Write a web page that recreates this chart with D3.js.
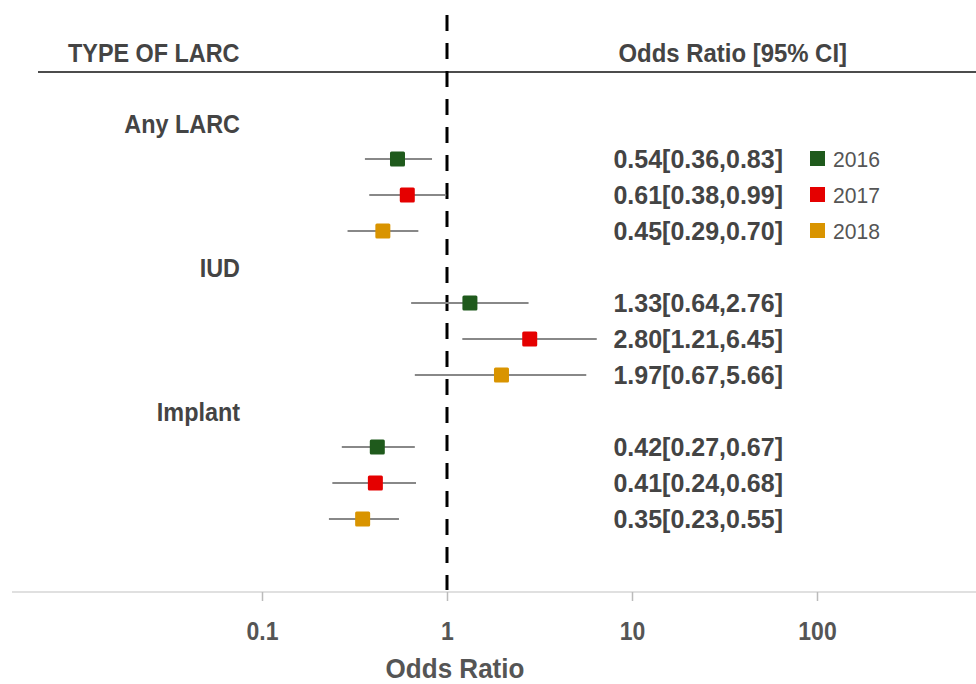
<!DOCTYPE html>
<html>
<head>
<meta charset="utf-8">
<script src="https://cdn.jsdelivr.net/npm/d3@7"></script>
<style>
  body { margin: 0; background: #fff; }
  text { font-family: "Liberation Sans", Arial, sans-serif; }
</style>
</head>
<body>
<script>
'use strict';

// rows of the forest plot, top to bottom (group headers have no values)
const rowLabels = ["Any LARC", "2016", "2017", "2018", "IUD", "2016", "2017", "2018", "Implant", "2016", "2017", "2018"];
const groupRows = [0, 4, 8];
const oddsRatio = [null, 0.54, 0.61, 0.45, null, 1.33, 2.80, 1.97, null, 0.42, 0.41, 0.35];
const ciLow     = [null, 0.36, 0.38, 0.29, null, 0.64, 1.21, 0.67, null, 0.27, 0.24, 0.23];
const ciHigh    = [null, 0.83, 0.99, 0.70, null, 2.76, 6.45, 5.66, null, 0.67, 0.68, 0.55];
const years = ["2016", "2017", "2018"];
const yearColors = ["#1f5a1c", "#e50000", "#d99400"];
const tickValues = [0.1, 1, 10, 100];
const tickLabels = ["0.1", "1", "10", "100"];

const width = 976, height = 684;
const textColor = "#444";
const squeeze = 0.9; // text in the picture is slightly condensed

const svg = d3.select("body").append("svg")
  .attr("width", width)
  .attr("height", height);

// log scale for odds ratio
const x = d3.scaleLog().domain([0.1, 100]).range([262, 817]);
// rows
const y = d3.scaleLinear().domain([0, rowLabels.length - 1]).range([123, 519]);

// helper for condensed text
function label(txt, px, py, size, weight, anchor, sx) {
  return svg.append("text")
    .attr("transform", "translate(" + px + "," + py + ") scale(" + (sx || squeeze) + ",1)")
    .attr("text-anchor", anchor)
    .style("font-size", size + "px")
    .style("font-weight", weight)
    .style("fill", textColor)
    .text(txt);
}

// header
label("TYPE OF LARC", 68, 62, 26, "bold", "start");
label("Odds Ratio [95% CI]", 847, 62, 26, "bold", "end", 0.92);
svg.append("line")
  .attr("x1", 38).attr("x2", width)
  .attr("y1", 72).attr("y2", 72)
  .attr("stroke", "#111").attr("stroke-width", 1.3);

// x axis
const axis = d3.axisBottom(x)
  .tickValues(tickValues)
  .tickFormat((d, i) => tickLabels[i])
  .tickSize(9)
  .tickSizeOuter(0);

const gAxis = svg.append("g")
  .attr("transform", "translate(0,592)")
  .call(axis);
gAxis.select(".domain").remove();
gAxis.insert("line", ":first-child")
  .attr("x1", 12).attr("x2", width)
  .attr("stroke", "#d6d6d6").attr("stroke-width", 1.5);
gAxis.selectAll(".tick line").attr("stroke", "#bbb").attr("stroke-width", 1.5);
gAxis.selectAll(".tick text")
  .attr("y", 0).attr("dy", null)
  .attr("transform", "translate(0,48) scale(0.92,1)")
  .style("font-size", "25px")
  .style("font-weight", "bold")
  .style("fill", "#555")
  .style("font-family", "'Liberation Sans', Arial, sans-serif");

label("Odds Ratio", 455, 678, 28, "bold", "middle", 0.93).style("fill", "#555");

// reference line at OR = 1
svg.append("line")
  .attr("x1", x(1)).attr("x2", x(1))
  .attr("y1", 15).attr("y2", 590)
  .attr("stroke", "#000")
  .attr("stroke-width", 3)
  .attr("stroke-dasharray", "16,12");

// group labels
groupRows.forEach(i => {
  label(rowLabels[i], 240, y(i) + 10, 26, "bold", "end");
});

// data rows
const rows = d3.range(rowLabels.length).filter(i => oddsRatio[i] !== null);

svg.selectAll(".ci")
  .data(rows)
  .enter().append("line")
  .attr("class", "ci")
  .attr("x1", i => x(ciLow[i]))
  .attr("x2", i => x(ciHigh[i]))
  .attr("y1", i => y(i)).attr("y2", i => y(i))
  .attr("stroke", "#888")
  .attr("stroke-width", 2);

const box = 15;
svg.selectAll(".pt")
  .data(rows)
  .enter().append("rect")
  .attr("class", "pt")
  .attr("x", i => x(oddsRatio[i]) - box / 2)
  .attr("y", i => y(i) - box / 2)
  .attr("width", box).attr("height", box)
  .attr("rx", 1.5)
  .attr("fill", i => yearColors[years.indexOf(rowLabels[i])]);

// OR [CI] text
const fmt = d3.format(".2f");
rows.forEach(i => {
  label(fmt(oddsRatio[i]) + "[" + fmt(ciLow[i]) + "," + fmt(ciHigh[i]) + "]",
    783, y(i) + 9, 25, "bold", "end", 1);
});

// legend
years.forEach((yr, k) => {
  const ly = y(k + 1);
  svg.append("rect")
    .attr("x", 810).attr("y", ly - 8)
    .attr("width", 15).attr("height", 15)
    .attr("fill", yearColors[k]);
  label(yr, 833, ly + 8, 22, "normal", "start", 0.96).style("fill", "#555");
});
</script>
</body>
</html>
